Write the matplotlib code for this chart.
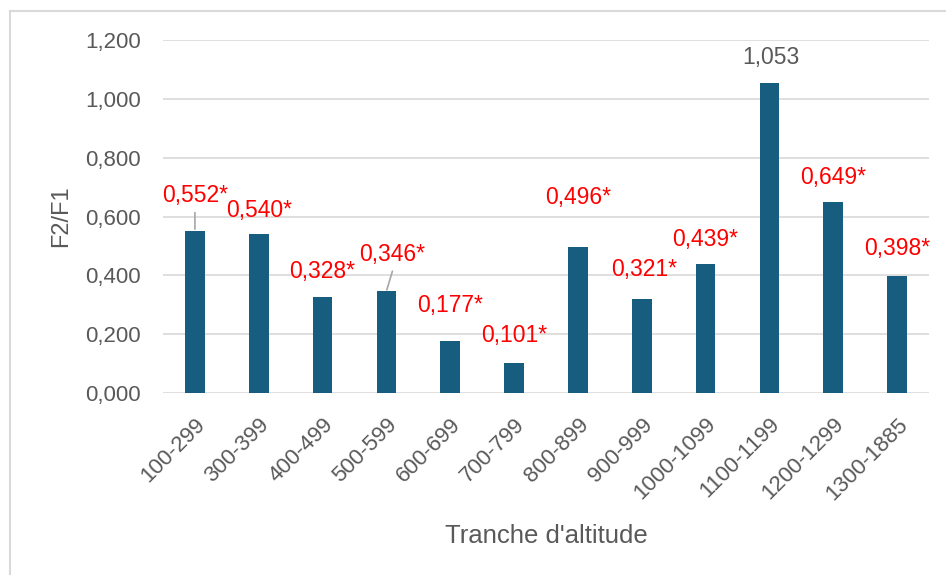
import matplotlib
matplotlib.use("Agg")
import matplotlib.pyplot as plt
from matplotlib.lines import Line2D

# données
tranches = ["100-299", "300-399", "400-499", "500-599", "600-699", "700-799",
            "800-899", "900-999", "1000-1099", "1100-1199", "1200-1299", "1300-1885"]
ratios = [0.552, 0.540, 0.328, 0.346, 0.177, 0.101,
          0.496, 0.321, 0.439, 1.053, 0.649, 0.398]
significatif = [True, True, True, True, True, True,
                True, True, True, False, True, True]

# décalages des étiquettes (pixels) et lignes de rappel
dx = [0, 0, 0, 6, 0, 0, 0, 2, 0, 1, 0, 0]
dy = [35, 24, 25, 37, 35, 28, 50, 29, 24, 26, 25, 27]
rappel = [True, False, False, True, False, False,
          False, False, False, False, False, False]

plt.rcParams['font.family'] = ['Liberation Sans', 'DejaVu Sans']
gris = '#595959'

fig = plt.figure(figsize=(9.46, 5.75), dpi=100)
ax = fig.add_axes([163 / 946, 1 - 393 / 575, (929 - 163) / 946, (393 - 40) / 575])

x = range(len(tranches))
ax.bar(x, ratios, width=0.31, color='#165d7f', zorder=3)

for i, v in enumerate(ratios):
    txt = f"{v:.3f}".replace('.', ',') + ("*" if significatif[i] else "")
    col = 'red' if significatif[i] else gris
    ax.annotate(txt, (i, v), xytext=(dx[i], dy[i]), textcoords='offset pixels',
                ha='center', va='center', fontsize=16.5, color=col, zorder=5)
    if rappel[i]:
        ax.annotate("", (i, v), xytext=(dx[i], dy[i] - 17), textcoords='offset pixels',
                    arrowprops=dict(arrowstyle='-', color='#a6a6a6', lw=1.2,
                                    shrinkA=0, shrinkB=1))

ax.set_xlim(-0.5, len(tranches) - 0.5)
ax.set_ylim(0, 1.2)
ax.set_yticks([0, 0.2, 0.4, 0.6, 0.8, 1.0, 1.2])
ax.set_yticklabels([f"{t:.3f}".replace('.', ',') for t in ax.get_yticks()])
ax.set_xticks(list(x))
ax.set_xticklabels(tranches, rotation=45, ha='right', rotation_mode='anchor')
ax.tick_params(axis='both', length=0, labelsize=16, colors=gris)
ax.tick_params(axis='y', pad=16)
ax.tick_params(axis='x', pad=15)
ax.grid(axis='y', color='#d9d9d9', lw=1.2, zorder=0)
for s in ax.spines.values():
    s.set_visible(False)

ax.set_ylabel("F2/F1", fontsize=17, color=gris, labelpad=9)
ax.set_xlabel("Tranche d'altitude", fontsize=18.5, color=gris, labelpad=14)

# cadre gris clair
fig.add_artist(Line2D([10 / 946, 1], [1 - 11 / 575] * 2, color='#d9d9d9', lw=1.5))
fig.add_artist(Line2D([10 / 946] * 2, [0, 1 - 11 / 575], color='#d9d9d9', lw=1.5))

fig.savefig("out.png", dpi=100, facecolor='white')
